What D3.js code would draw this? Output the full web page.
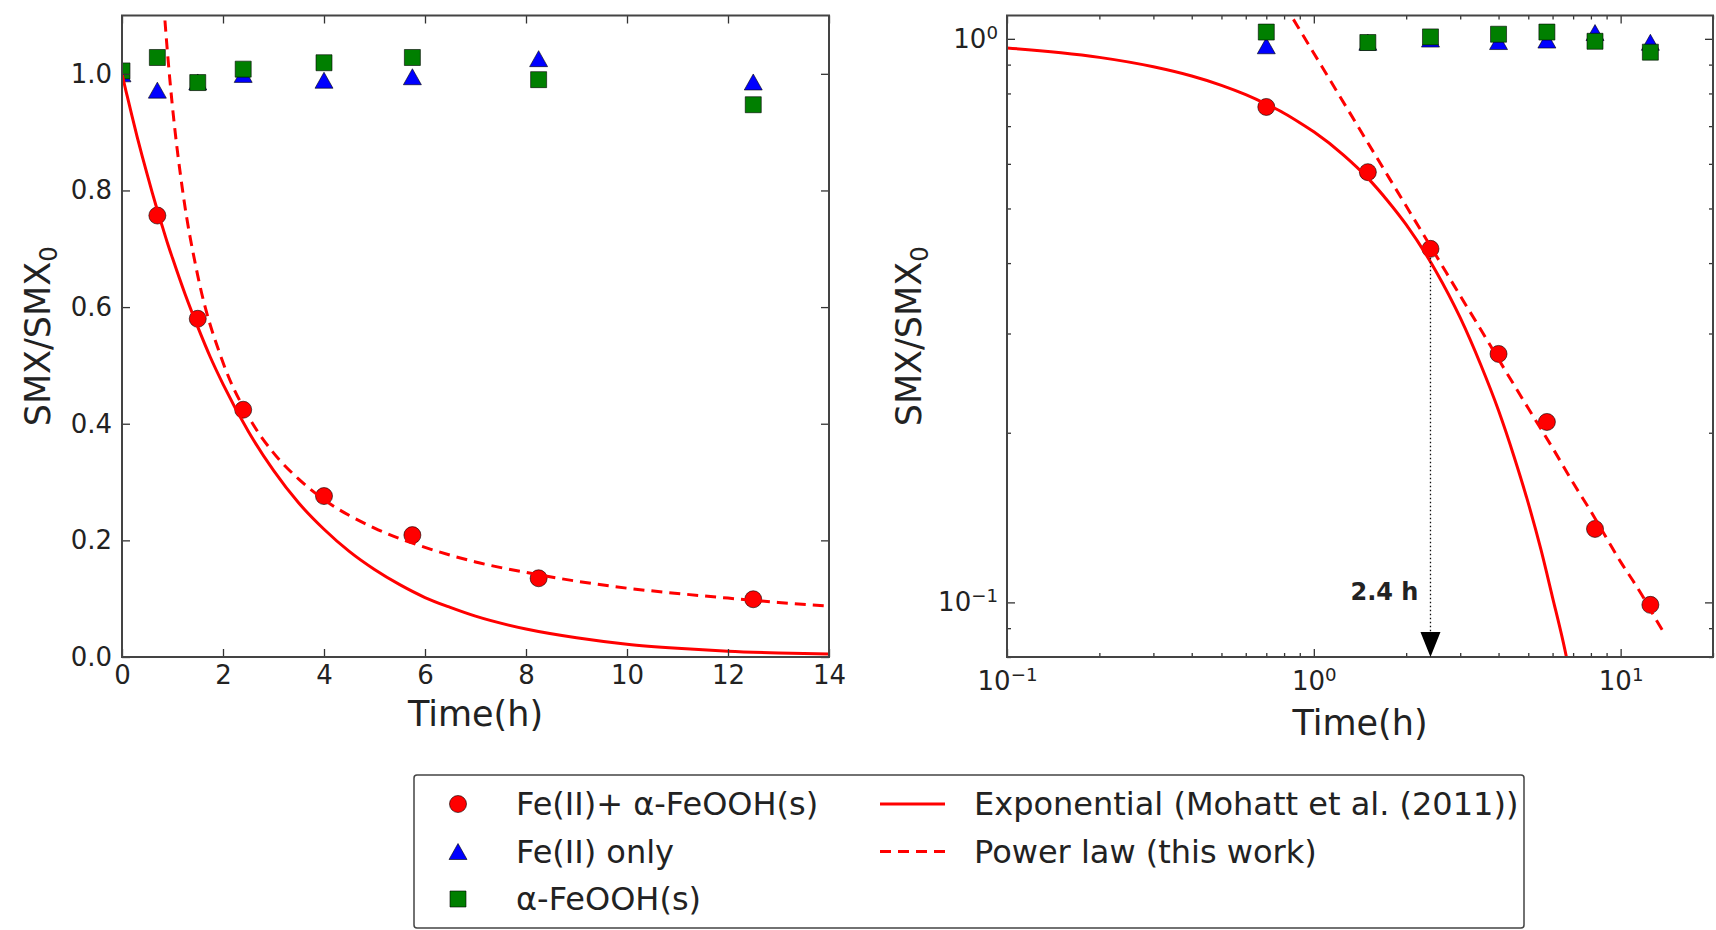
<!DOCTYPE html>
<html>
<head>
<meta charset="utf-8">
<style>
    body { margin: 0; background: #fff; }
    text { font-family: "DejaVu Sans", sans-serif; fill: #222; }
</style>
<script src="https://d3js.org/d3.v7.min.js"></script>
</head>
<body>
<script>
    // ~~~~~~~~~~~~~~~~~~~~~~~~~~~~~~~~~~~~~~~~~~~~~~~~~~
    // Data
    // ~~~~~~~~~~~~~~~~~~~~~~~~~~~~~~~~~~~~~~~~~~~~~~~~~~
    // Fe(II) + goethite (red circles)
    var tMixed = [0.7, 1.5, 2.4, 4, 5.75, 8.25, 12.5];
    var mixedVals = [0.757, 0.58, 0.424, 0.276, 0.209, 0.135, 0.099];

    // controls (blue triangles / green squares)
    var tCtrl = [0, 0.7, 1.5, 2.4, 4, 5.75, 8.25, 12.5];
    var feOnlyVals = [1.0, 0.972, 0.986, 0.999, 0.989, 0.995, 1.026, 0.986];
    var goethiteVals = [1.005, 1.028, 0.985, 1.008, 1.019, 1.028, 0.99, 0.947];

    // exponential model curve
    var tExp = [0, 0.08, 0.1, 0.15, 0.2, 0.3, 0.4, 0.5, 0.6, 0.7, 0.8, 0.9, 1, 1.25, 1.5, 1.75,
                2, 2.5, 3, 3.5, 4, 4.5, 5, 5.5, 6, 6.5, 7, 8, 9, 10, 11, 12, 13, 14];
    var expVals = [1, 0.970, 0.963, 0.945, 0.927, 0.892, 0.859, 0.827, 0.796, 0.766, 0.738, 0.710,
                   0.684, 0.622, 0.566, 0.514, 0.468, 0.387, 0.320, 0.264, 0.219, 0.181, 0.150,
                   0.124, 0.102, 0.085, 0.070, 0.048, 0.033, 0.022, 0.015, 0.010, 0.007, 0.005];

    // power law curve
    var tPow = [0.8, 0.85, 0.9, 1, 1.2, 1.5, 2, 2.5, 3, 3.5, 4, 5, 6, 7, 8, 9, 10, 11, 12, 13, 14];
    var powVals = [1.153, 1.092, 1.037, 0.943, 0.800, 0.654, 0.505, 0.413, 0.350, 0.305, 0.270,
                   0.221, 0.188, 0.163, 0.145, 0.130, 0.118, 0.109, 0.101, 0.0935, 0.0875];

    // axes ticks
    var linXTicks = [0, 2, 4, 6, 8, 10, 12, 14];
    var linYTicks = [0, 0.2, 0.4, 0.6, 0.8, 1.0];
    var logXTicks = [0.1, 1, 10];
    var logYTicks = [0.1, 1];

    var halfLife = 2.4;   // annotated time

    var legendMarkers = ["Fe(II)+ \u03b1-FeOOH(s)", "Fe(II) only", "\u03b1-FeOOH(s)"];
    var legendLines = ["Exponential (Mohatt et al. (2011))", "Power law (this work)"];

    // ~~~~~~~~~~~~~~~~~~~~~~~~~~~~~~~~~~~~~~~~~~~~~~~~~~
    var width = 1716, height = 930;
    var top_ = 15.5, bottom_ = 657;
    var red = "#ff0000", blue = "#0000ff", green = "#007f00";
    var tickFont = 26, labelFont = 35;
    var lw = 3, dash = "11,7";

    var svg = d3.select("body").append("svg")
        .attr("width", width)
        .attr("height", height);

    svg.append("rect").attr("width", width).attr("height", height).attr("fill", "#fff");

    var xLin = d3.scaleLinear().domain([0, 14]).range([122, 829]);
    var yLin = d3.scaleLinear().domain([0, 1.1]).range([bottom_, top_]);
    var xLog = d3.scaleLog().domain([0.1, 20]).range([1007, 1713]);
    var yLog = d3.scaleLog().domain([0.08, 1.1]).range([bottom_, top_]);

    function zip(ts, vs) { return ts.map((t, i) => [t, vs[i]]); }

    // triangle marker like matplotlib '^'
    function triPath(w, h) {
        return "M0," + (-h / 2) + "L" + (w / 2) + "," + (h / 2) + "L" + (-w / 2) + "," + (h / 2) + "Z";
    }
    var circlePath = d3.symbol().type(d3.symbolCircle).size(Math.PI * 8.5 * 8.5)();
    var squarePath = d3.symbol().type(d3.symbolSquare).size(16 * 16)();
    var trianglePath = triPath(18, 16);

    function panel(id, x, y, isLog) {
        var x0 = x.range()[0], x1 = x.range()[1];
        var g = svg.append("g");

        g.append("clipPath").attr("id", id)
            .append("rect")
            .attr("x", x0).attr("y", top_)
            .attr("width", x1 - x0).attr("height", bottom_ - top_);

        var plot = g.append("g").attr("clip-path", "url(#" + id + ")");
        var ok = d => !isLog || d[0] > 0;

        function markers(data, path, color) {
            plot.append("g").selectAll("path")
                .data(data.filter(ok))
                .join("path")
                .attr("d", path)
                .attr("transform", d => `translate(${x(d[0])},${y(d[1])})`)
                .attr("fill", color)
                .attr("stroke", "#000")
                .attr("stroke-width", 0.6);
        }
        markers(zip(tMixed, mixedVals), circlePath, red);
        markers(zip(tCtrl, feOnlyVals), trianglePath, blue);
        markers(zip(tCtrl, goethiteVals), squarePath, green);

        var line = d3.line()
            .x(d => x(d[0]))
            .y(d => y(d[1]))
            .curve(d3.curveMonotoneX);

        plot.append("path")
            .attr("d", line(zip(tExp, expVals).filter(ok)))
            .attr("fill", "none").attr("stroke", red).attr("stroke-width", lw);
        plot.append("path")
            .attr("d", line(zip(tPow, powVals).filter(ok)))
            .attr("fill", "none").attr("stroke", red).attr("stroke-width", lw)
            .attr("stroke-dasharray", dash);

        // ticks, inside on every side
        var xt = isLog ? logXTicks : linXTicks;
        var yt = isLog ? logYTicks : linYTicks;
        var xMinor = isLog ? x.ticks().filter(v => xt.indexOf(v) < 0) : [];
        var yMinor = isLog ? y.ticks().filter(v => yt.indexOf(v) < 0) : [];

        function tickAxes(vals, size, withLabels) {
            var b = g.append("g").attr("transform", `translate(0,${bottom_})`)
                .call(d3.axisBottom(x).tickValues(vals).tickSize(-size).tickSizeOuter(0)
                    .tickPadding(isLog ? 15 : 9)
                    .tickFormat(withLabels ? (isLog ? () => "" : d3.format("d")) : () => ""));
            var t = g.append("g").attr("transform", `translate(0,${top_})`)
                .call(d3.axisTop(x).tickValues(vals).tickSize(-size).tickSizeOuter(0).tickFormat(""));
            var l = g.append("g").attr("transform", `translate(${x0},0)`)
                .call(d3.axisLeft(y).tickValues(isLog ? (size > 5 ? yt : yMinor) : (size > 5 ? yt : []))
                    .tickSize(-size).tickSizeOuter(0).tickPadding(isLog ? 9 : 10)
                    .tickFormat(withLabels ? (isLog ? () => "" : d3.format(".1f")) : () => ""));
            var r = g.append("g").attr("transform", `translate(${x1},0)`)
                .call(d3.axisRight(y).tickValues(isLog ? (size > 5 ? yt : yMinor) : (size > 5 ? yt : []))
                    .tickSize(-size).tickSizeOuter(0).tickFormat(""));
            [b, t, l, r].forEach(a => {
                a.select(".domain").remove();
                a.selectAll("line").attr("stroke", "#333").attr("stroke-width", 1.3);
                a.attr("font-size", tickFont).attr("font-family", "DejaVu Sans");
                a.selectAll("text").attr("fill", "#222");
            });
            if (withLabels && isLog) {
                [b, l].forEach(a => {
                    a.selectAll(".tick text").each(function (d) {
                        var e = Math.round(Math.log10(d));
                        var s = d3.select(this);
                        s.append("tspan").text("10");
                        s.append("tspan").attr("dy", "-0.5em").attr("font-size", "70%")
                            .text(e < 0 ? "\u2212" + (-e) : e);
                    });
                });
            }
        }
        tickAxes(xt, 8, true);
        if (isLog) tickAxes(xMinor, 4, false);

        // frame
        g.append("rect")
            .attr("x", x0).attr("y", top_)
            .attr("width", x1 - x0).attr("height", bottom_ - top_)
            .attr("fill", "none").attr("stroke", "#444").attr("stroke-width", 2);

        // axis titles
        var cx = (x0 + x1) / 2;
        g.append("text")
            .attr("x", cx).attr("y", isLog ? 735 : 726)
            .attr("text-anchor", "middle").attr("font-size", labelFont)
            .text("Time(h)");
        var yl = g.append("text")
            .attr("transform", `translate(${isLog ? 921 : 50},${(top_ + bottom_) / 2}) rotate(-90)`)
            .attr("text-anchor", "middle").attr("font-size", labelFont);
        yl.append("tspan").text("SMX/SMX");
        yl.append("tspan").attr("dy", "0.3em").attr("font-size", "70%").text("0");

        return g;
    }

    panel("clipLin", xLin, yLin, false);
    var gl = panel("clipLog", xLog, yLog, true);

    // half life annotation
    var hx = xLog(halfLife);
    var hy = yLog(mixedVals[tMixed.indexOf(halfLife)]);
    gl.append("line")
        .attr("x1", hx).attr("x2", hx)
        .attr("y1", hy + 9).attr("y2", bottom_ - 24)
        .attr("stroke", "#111").attr("stroke-width", 1.3)
        .attr("stroke-dasharray", "1.5,2.5");
    gl.append("path")
        .attr("d", `M${hx - 10},${bottom_ - 25}L${hx + 10},${bottom_ - 25}L${hx},${bottom_}Z`)
        .attr("fill", "#000");
    gl.append("text")
        .attr("x", hx - 12).attr("y", yLog(0.1) - 2)
        .attr("text-anchor", "end")
        .attr("font-size", 24).attr("font-weight", "bold")
        .text(halfLife + " h");

    // ~~~~~~~~~~~~~~~~~~~~~~~~~~~~~~~~~~~~~~~~~~~~~~~~~~
    // Legend
    // ~~~~~~~~~~~~~~~~~~~~~~~~~~~~~~~~~~~~~~~~~~~~~~~~~~
    var lg = svg.append("g");
    lg.append("rect")
        .attr("x", 414).attr("y", 775)
        .attr("width", 1110).attr("height", 153)
        .attr("rx", 3)
        .attr("fill", "#fff").attr("stroke", "#444").attr("stroke-width", 1.5);

    var rowY = d3.scalePoint().domain([0, 1, 2]).range([804, 899]);
    var mk = [[circlePath, red], [trianglePath, blue], [squarePath, green]];
    legendMarkers.forEach((name, i) => {
        lg.append("path")
            .attr("d", mk[i][0])
            .attr("transform", `translate(458,${rowY(i)})`)
            .attr("fill", mk[i][1]).attr("stroke", "#000").attr("stroke-width", 0.6);
        lg.append("text")
            .attr("x", 516).attr("y", rowY(i) + 11)
            .attr("font-size", 32)
            .text(name);
    });
    legendLines.forEach((name, i) => {
        lg.append("line")
            .attr("x1", 880).attr("x2", 945)
            .attr("y1", rowY(i)).attr("y2", rowY(i))
            .attr("stroke", red).attr("stroke-width", lw)
            .attr("stroke-dasharray", i === 1 ? dash : null);
        lg.append("text")
            .attr("x", 974).attr("y", rowY(i) + 11)
            .attr("font-size", 32)
            .text(name);
    });
</script>
</body>
</html>
